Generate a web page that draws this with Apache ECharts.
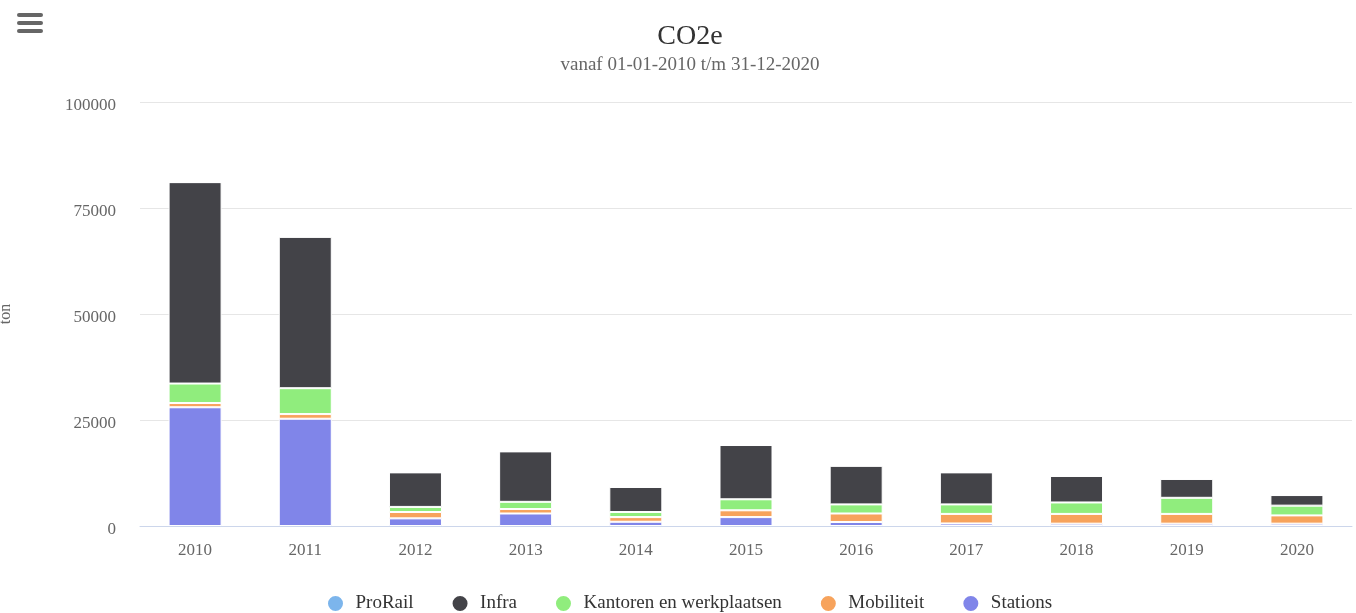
<!DOCTYPE html>
<html>
<head>
<meta charset="utf-8">
<title>CO2e</title>
<script src="https://cdn.jsdelivr.net/npm/echarts@6/dist/echarts.min.js"></script>
<style>
  html, body { margin: 0; padding: 0; background: #ffffff; }
  #chart { width: 1356px; height: 613px; }
</style>
</head>
<body>
<div id="chart"></div>
<script>
// Years on the category axis
const years = ['2010', '2011', '2012', '2013', '2014', '2015', '2016', '2017', '2018', '2019', '2020'];

// CO2e emissions per domain, in ton
const prorail    = [0, 0, 0, 0, 0, 0, 0, 0, 0, 0, 0];
const infra      = [47500, 35700, 8150, 11900, 5900, 12800, 9100, 7550, 6250, 4450, 2500];
const kantoren   = [4600, 6100, 1200, 1700, 1200, 2600, 2150, 2250, 2700, 3800, 2300];
const mobiliteit = [1000, 1100, 1500, 1050, 1100, 1600, 2000, 2250, 2300, 2300, 1950];
const stations   = [28000, 25300, 1800, 2950, 1000, 2100, 950, 600, 550, 550, 550];

// Value axis ticks
const yTicks = [0, 25000, 50000, 75000, 100000];

const FONT = '"Liberation Serif", "Times New Roman", serif';

const chart = echarts.init(document.getElementById('chart'), null, { renderer: 'canvas' });

function column(name, data, color) {
  return {
    name: name,
    type: 'bar',
    stack: 'total',
    data: data,
    barWidth: 53,
    itemStyle: { color: color, borderColor: '#ffffff', borderWidth: 1 },
    emphasis: { disabled: true }
  };
}

// Series are listed bottom-up for stacking; legend order is set separately
const series = [
  column('Stations', stations, '#8085e9'),
  column('Mobiliteit', mobiliteit, '#f7a35c'),
  column('Kantoren en werkplaatsen', kantoren, '#90ed7d'),
  column('Infra', infra, '#434348'),
  column('ProRail', prorail, '#7cb5ec')
];

chart.setOption({
  animation: false,
  backgroundColor: '#ffffff',
  textStyle: { fontFamily: FONT },
  title: {
    text: 'CO2e',
    subtext: 'vanaf 01-01-2010 t/m 31-12-2020',
    left: 685,
    textAlign: 'center',
    top: 18,
    itemGap: 5,
    textStyle: { fontFamily: FONT, fontSize: 28, fontWeight: 'normal', color: '#333333' },
    subtextStyle: { fontFamily: FONT, fontSize: 19, color: '#666666' }
  },
  legend: {
    data: ['ProRail', 'Infra', 'Kantoren en werkplaatsen', 'Mobiliteit', 'Stations'],
    bottom: 0,
    padding: 0,
    left: 326,
    icon: 'circle',
    itemWidth: 30,
    itemHeight: 17,
    itemGap: 37,
    selectedMode: false,
    textStyle: { fontFamily: FONT, fontSize: 19, color: '#333333' }
  },
  grid: { left: 140, right: 4, top: 102, bottom: 87, outerBoundsMode: 'none', containLabel: false },
  xAxis: {
    type: 'category',
    data: years,
    axisLine: { lineStyle: { color: '#ccd6eb', width: 1 } },
    axisTick: { show: false },
    axisLabel: { fontFamily: FONT, fontSize: 17, color: '#666666', margin: 16 }
  },
  yAxis: {
    type: 'value',
    min: yTicks[0],
    max: yTicks[yTicks.length - 1],
    interval: yTicks[1] - yTicks[0],
    name: 'ton',
    nameLocation: 'middle',
    nameRotate: 90,
    nameGap: 126,
    nameTextStyle: { fontFamily: FONT, fontSize: 16, color: '#666666' },
    axisLine: { show: false },
    axisTick: { show: false },
    axisLabel: {
      fontFamily: FONT, fontSize: 17, color: '#666666', margin: 24,
      verticalAlign: 'top',
      lineHeight: 8,
      formatter: function (v) { return String(v); }
    },
    splitLine: { lineStyle: { color: '#e6e6e6', width: 1 } }
  },
  // Context menu button in the top-left corner
  graphic: [
    { type: 'rect', left: 17, top: 13, shape: { width: 26, height: 4, r: 2 }, style: { fill: '#666666' } },
    { type: 'rect', left: 17, top: 21, shape: { width: 26, height: 4, r: 2 }, style: { fill: '#666666' } },
    { type: 'rect', left: 17, top: 29, shape: { width: 26, height: 4, r: 2 }, style: { fill: '#666666' } }
  ],
  series: series
});
</script>
</body>
</html>
